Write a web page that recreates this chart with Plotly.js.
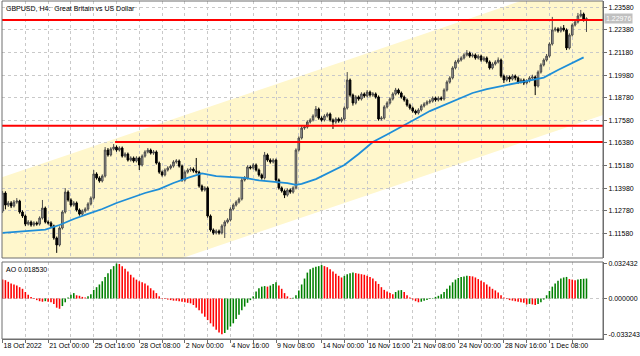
<!DOCTYPE html>
<html><head><meta charset="utf-8">
<script src="https://cdn.plot.ly/plotly-3.0.1.min.js"></script>
<style>html,body{margin:0;padding:0;background:#fff}#chart{width:640px;height:356px}</style>
</head><body><div id="chart"></div>
<script>
const openP = [1.1276,1.1372,1.1308,1.1319,1.1303,1.1324,1.1329,1.1271,1.1250,1.1207,
1.1218,1.1202,1.1213,1.1207,1.1239,1.1292,1.1218,1.1213,1.1197,1.1133,
1.1096,1.1186,1.1271,1.1377,1.1335,1.1308,1.1319,1.1282,1.1260,1.1276,
1.1287,1.1314,1.1345,1.1473,1.1452,1.1436,1.1462,1.1600,1.1574,1.1606,
1.1616,1.1600,1.1611,1.1568,1.1579,1.1547,1.1558,1.1542,1.1558,1.1521,
1.1568,1.1590,1.1600,1.1584,1.1590,1.1531,1.1483,1.1468,1.1494,1.1505,
1.1515,1.1537,1.1542,1.1515,1.1441,1.1483,1.1494,1.1499,1.1489,1.1483,
1.1409,1.1388,1.1399,1.1250,1.1176,1.1160,1.1170,1.1160,1.1197,1.1218,
1.1229,1.1287,1.1308,1.1324,1.1340,1.1441,1.1452,1.1510,1.1505,1.1521,
1.1494,1.1468,1.1452,1.1574,1.1547,1.1537,1.1547,1.1441,1.1399,1.1383,
1.1361,1.1388,1.1377,1.1399,1.1600,1.1664,1.1717,1.1722,1.1749,1.1760,
1.1781,1.1818,1.1770,1.1760,1.1781,1.1791,1.1760,1.1749,1.1765,1.1754,
1.1765,1.1823,1.1972,1.1892,1.1850,1.1882,1.1871,1.1898,1.1887,1.1908,
1.1892,1.1898,1.1882,1.1765,1.1770,1.1829,1.1850,1.1871,1.1898,1.1919,
1.1903,1.1882,1.1866,1.1839,1.1823,1.1807,1.1797,1.1813,1.1834,1.1845,
1.1855,1.1860,1.1876,1.1866,1.1876,1.1871,1.1919,1.1961,1.1983,1.2036,
1.2068,1.2078,1.2089,1.2105,1.2115,1.2099,1.2105,1.2089,1.2099,1.2078,
1.2089,1.2068,1.2036,1.2057,1.2068,1.2078,1.1993,1.1972,1.1988,1.1977,
1.1993,1.1983,1.1961,1.1972,1.1956,1.1967,1.1983,1.1988,1.1940,1.2014,
1.2052,1.2078,1.2099,1.2163,1.2238,1.2243,1.2232,1.2248,1.2238,1.2142,
1.2211,1.2264,1.2280,1.2312,1.2322,1.2291];

const highP = [1.1383,1.1381,1.1330,1.1329,1.1335,1.1345,1.1336,1.1280,1.1258,1.1228,
1.1226,1.1222,1.1221,1.1248,1.1335,1.1300,1.1227,1.1222,1.1204,1.1141,
1.1195,1.1280,1.1398,1.1386,1.1344,1.1329,1.1327,1.1290,1.1285,1.1296,
1.1323,1.1354,1.1494,1.1482,1.1461,1.1471,1.1616,1.1611,1.1615,1.1632,
1.1625,1.1620,1.1619,1.1588,1.1587,1.1567,1.1566,1.1567,1.1566,1.1577,
1.1599,1.1611,1.1608,1.1600,1.1598,1.1539,1.1491,1.1503,1.1514,1.1524,
1.1546,1.1552,1.1550,1.1523,1.1492,1.1503,1.1509,1.1508,1.1558,1.1491,
1.1417,1.1408,1.1407,1.1258,1.1184,1.1179,1.1178,1.1206,1.1227,1.1238,
1.1296,1.1317,1.1333,1.1349,1.1452,1.1462,1.1519,1.1518,1.1530,1.1529,
1.1502,1.1476,1.1590,1.1582,1.1556,1.1556,1.1555,1.1449,1.1407,1.1391,
1.1397,1.1396,1.1408,1.1609,1.1673,1.1727,1.1733,1.1758,1.1769,1.1790,
1.1834,1.1826,1.1779,1.1790,1.1800,1.1799,1.1768,1.1774,1.1773,1.1774,
1.1832,1.2014,1.1980,1.1900,1.1891,1.1890,1.1907,1.1906,1.1919,1.1916,
1.1908,1.1906,1.1890,1.1780,1.1838,1.1859,1.1880,1.1907,1.1930,1.1927,
1.1911,1.1890,1.1874,1.1847,1.1831,1.1815,1.1822,1.1843,1.1854,1.1864,
1.1870,1.1885,1.1884,1.1885,1.1885,1.1928,1.1970,1.1992,1.2045,1.2077,
1.2088,1.2098,1.2114,1.2131,1.2123,1.2114,1.2113,1.2108,1.2107,1.2098,
1.2097,1.2076,1.2066,1.2077,1.2092,1.2086,1.2001,1.1997,1.1996,1.2003,
1.2001,1.1991,1.1981,1.1980,1.1976,1.1992,1.2000,1.1996,1.2023,1.2061,
1.2087,1.2110,1.2172,1.2307,1.2254,1.2252,1.2257,1.2264,1.2246,1.2220,
1.2273,1.2291,1.2328,1.2344,1.2330,1.2305];

const lowP = [1.1266,1.1285,1.1298,1.1292,1.1295,1.1315,1.1262,1.1240,1.1196,1.1199,
1.1193,1.1194,1.1198,1.1199,1.1231,1.1210,1.1204,1.1188,1.1124,1.1054,
1.1088,1.1178,1.1263,1.1326,1.1299,1.1300,1.1273,1.1252,1.1252,1.1268,
1.1279,1.1306,1.1337,1.1443,1.1427,1.1428,1.1454,1.1565,1.1566,1.1598,
1.1591,1.1592,1.1560,1.1560,1.1539,1.1539,1.1533,1.1534,1.1494,1.1513,
1.1560,1.1582,1.1576,1.1575,1.1523,1.1474,1.1459,1.1460,1.1486,1.1497,
1.1507,1.1528,1.1507,1.1432,1.1433,1.1475,1.1485,1.1480,1.1475,1.1400,
1.1379,1.1380,1.1241,1.1167,1.1150,1.1152,1.1151,1.1152,1.1133,1.1210,
1.1221,1.1279,1.1300,1.1316,1.1332,1.1433,1.1444,1.1497,1.1497,1.1486,
1.1459,1.1443,1.1444,1.1538,1.1528,1.1529,1.1432,1.1390,1.1374,1.1345,
1.1353,1.1368,1.1369,1.1391,1.1592,1.1656,1.1708,1.1714,1.1741,1.1752,
1.1773,1.1761,1.1751,1.1752,1.1773,1.1751,1.1712,1.1740,1.1745,1.1746,
1.1757,1.1815,1.1883,1.1836,1.1842,1.1862,1.1863,1.1878,1.1879,1.1883,
1.1883,1.1873,1.1756,1.1757,1.1762,1.1821,1.1842,1.1863,1.1890,1.1895,
1.1873,1.1857,1.1830,1.1814,1.1798,1.1788,1.1789,1.1805,1.1826,1.1837,
1.1846,1.1852,1.1857,1.1858,1.1862,1.1863,1.1911,1.1953,1.1975,1.2028,
1.2059,1.2070,1.2081,1.2097,1.2090,1.2091,1.2080,1.2081,1.2069,1.2070,
1.2059,1.2027,1.2028,1.2049,1.2060,1.1984,1.1956,1.1964,1.1961,1.1969,
1.1970,1.1951,1.1953,1.1945,1.1948,1.1959,1.1975,1.1892,1.1932,1.2006,
1.2044,1.2070,1.2091,1.2155,1.2229,1.2223,1.2224,1.2229,1.2131,1.2134,
1.2203,1.2256,1.2272,1.2304,1.2282,1.2227];

const closeP = [1.1372,1.1308,1.1319,1.1303,1.1324,1.1329,1.1271,1.1250,1.1207,1.1218,
1.1202,1.1213,1.1207,1.1239,1.1292,1.1218,1.1213,1.1197,1.1133,1.1096,
1.1186,1.1271,1.1377,1.1335,1.1308,1.1319,1.1282,1.1260,1.1276,1.1287,
1.1314,1.1345,1.1473,1.1452,1.1436,1.1462,1.1600,1.1574,1.1606,1.1616,
1.1600,1.1611,1.1568,1.1579,1.1547,1.1558,1.1542,1.1558,1.1521,1.1568,
1.1590,1.1600,1.1584,1.1590,1.1531,1.1483,1.1468,1.1494,1.1505,1.1515,
1.1537,1.1542,1.1515,1.1441,1.1483,1.1494,1.1499,1.1489,1.1483,1.1409,
1.1388,1.1399,1.1250,1.1176,1.1160,1.1170,1.1160,1.1197,1.1218,1.1229,
1.1287,1.1308,1.1324,1.1340,1.1441,1.1452,1.1510,1.1505,1.1521,1.1494,
1.1468,1.1452,1.1574,1.1547,1.1537,1.1547,1.1441,1.1399,1.1383,1.1361,
1.1388,1.1377,1.1399,1.1600,1.1664,1.1717,1.1722,1.1749,1.1760,1.1781,
1.1818,1.1770,1.1760,1.1781,1.1791,1.1760,1.1749,1.1765,1.1754,1.1765,
1.1823,1.1972,1.1892,1.1850,1.1882,1.1871,1.1898,1.1887,1.1908,1.1892,
1.1898,1.1882,1.1765,1.1770,1.1829,1.1850,1.1871,1.1898,1.1919,1.1903,
1.1882,1.1866,1.1839,1.1823,1.1807,1.1797,1.1813,1.1834,1.1845,1.1855,
1.1860,1.1876,1.1866,1.1876,1.1871,1.1919,1.1961,1.1983,1.2036,1.2068,
1.2078,1.2089,1.2105,1.2115,1.2099,1.2105,1.2089,1.2099,1.2078,1.2089,
1.2068,1.2036,1.2057,1.2068,1.2078,1.1993,1.1972,1.1988,1.1977,1.1993,
1.1983,1.1961,1.1972,1.1956,1.1967,1.1983,1.1988,1.1940,1.2014,1.2052,
1.2078,1.2099,1.2163,1.2238,1.2243,1.2232,1.2248,1.2238,1.2142,1.2211,
1.2264,1.2280,1.2312,1.2322,1.2291,1.22976];

const aoValues = [0.0175,0.0170,0.0155,0.0140,0.0130,0.0120,0.0105,0.0090,0.0060,0.0035,
0.0015,-0.0005,-0.0015,-0.0025,-0.0030,-0.0025,-0.0030,-0.0035,-0.0050,-0.0085,
-0.0095,-0.0070,-0.0035,0.0010,0.0035,0.0050,0.0030,0.0025,0.0015,0.0010,
0.0020,0.0040,0.0080,0.0105,0.0130,0.0160,0.0200,0.0235,0.0270,0.0300,
0.032432,0.0320,0.0300,0.0275,0.0250,0.0220,0.0195,0.0175,0.0160,0.0150,
0.0140,0.0120,0.0095,0.0075,0.0050,0.0020,0.0005,-0.0005,-0.0010,-0.0015,
-0.0020,-0.0021,-0.0025,-0.0030,-0.0035,-0.0040,-0.0045,-0.0060,-0.0085,-0.0110,
-0.0140,-0.0170,-0.0200,-0.0230,-0.0260,-0.0290,-0.0315,-0.033243,-0.0320,-0.0290,
-0.0260,-0.0230,-0.0190,-0.0150,-0.0110,-0.0075,-0.0040,-0.0015,0.0020,0.0065,
0.0095,0.0110,0.0115,0.0110,0.0120,0.0135,0.0150,0.0120,0.0090,0.0050,
0.0020,0.0005,0.0008,0.0030,0.0075,0.0130,0.0185,0.0240,0.0270,0.0285,
0.0295,0.0300,0.0310,0.0300,0.0290,0.0270,0.0250,0.0230,0.0210,0.0195,
0.0210,0.0225,0.0235,0.0240,0.0235,0.0230,0.0225,0.0220,0.0210,0.0200,
0.0185,0.0160,0.0135,0.0105,0.0080,0.0065,0.0050,0.0040,0.0060,0.0075,
0.0078,0.0060,0.0030,0.0010,-0.0010,-0.0025,-0.0035,-0.0030,-0.0020,-0.0015,
-0.0005,0.0005,0.0015,0.0025,0.0040,0.0060,0.0090,0.0120,0.0150,0.0175,
0.0190,0.0200,0.0205,0.0210,0.0208,0.0205,0.0195,0.0180,0.0165,0.0150,
0.0130,0.0110,0.0090,0.0075,0.0055,0.0030,0.0010,-0.0005,-0.0015,-0.0020,
-0.0025,-0.0030,-0.0035,-0.0040,-0.0055,-0.0050,-0.0055,-0.0060,-0.0050,-0.0035,
-0.0010,0.0030,0.0070,0.0110,0.0140,0.0165,0.0185,0.0195,0.0200,0.0180,
0.0175,0.0170,0.0175,0.0180,0.0183,0.018530];

const maBars = [0,5,10,15,20,25,30,35,40,45,50,55,60,65,68,70,75,80,85,90,95,100,103,105,110,115,120,125,130,135,140,145,150,155,160,165,170,175,180,185,190,195,200,204];
const maValues = [1.1160,1.1165,1.1170,1.1178,1.1202,1.1234,1.1261,1.1287,1.1319,1.1345,1.1372,1.1393,1.1425,1.1452,1.1468,1.1476,1.1462,1.1457,1.1452,1.1439,1.1433,1.1425,1.1415,1.1420,1.1446,1.1483,1.1521,1.1579,1.1643,1.1683,1.1722,1.1765,1.1807,1.1839,1.1871,1.1903,1.1924,1.1940,1.1956,1.1969,1.1985,1.2025,1.2062,1.2092];

const channelBars = [-0.2, 210.8];
const channelUpper = [1.1455, 1.2540];
const channelLower = [1.0701, 1.1786];

const levelPrices = [1.2291, 1.1729, 1.1643];
const levelStartBars = [-0.2, -0.2, 39.5];
const levelEndBar = 210.8;

const lastPrice = 1.22976;
const aoLastText = 'AO 0.018530';

const priceTicks = [1.2358,1.2238,1.2118,1.1998,1.1878,1.1758,1.1638,1.1518,1.1398,1.1278,1.1158];
const aoTicks = [0.032432, 0, -0.033243];
const aoTickText = ['0.032432','0.000000','-0.033243'];
const dateTickBars = [0,16,32,48,64,80,96,112,128,144,160,176,192];
const dateTickLabels = ['18 Oct 2022','21 Oct 00:00','25 Oct 16:00','28 Oct 08:00','2 Nov 00:00','4 Nov 16:00','9 Nov 08:00','14 Nov 00:00','16 Nov 16:00','21 Nov 08:00','24 Nov 00:00','28 Nov 16:00','1 Dec 08:00'];
const minorGridBars = [8,24,40,56,72,88,104,120,136,152,168,184,200];

const bars = closeP.map((_, i) => i);
const aoColors = aoValues.map((v, i) => (i > 0 && v > aoValues[i - 1]) ? '#008000' : '#ff0000');

const GRID = '#c9c9c9';
const FRAME = '#6e6e6e';

const traces = [];
traces.push({
  type: 'candlestick', x: bars, open: openP, high: highP, low: lowP, close: closeP,
  xaxis: 'x', yaxis: 'y', whiskerwidth: 0, hoverinfo: 'skip',
  increasing: {line: {color: '#4a4a4a', width: 1}, fillcolor: '#a6a6a6'},
  decreasing: {line: {color: '#000000', width: 1}, fillcolor: '#000000'}
});
traces.push({
  type: 'scatter', mode: 'lines', x: maBars, y: maValues, xaxis: 'x', yaxis: 'y',
  line: {color: '#1e8ed8', width: 1.8}, hoverinfo: 'skip'
});
levelPrices.forEach((p, k) => {
  traces.push({
    type: 'scatter', mode: 'lines', x: [levelStartBars[k], levelEndBar], y: [p, p],
    xaxis: 'x', yaxis: 'y', line: {color: '#ff0000', width: 2}, hoverinfo: 'skip'
  });
});
traces.push({
  type: 'bar', x: bars, y: aoValues, xaxis: 'x', yaxis: 'y2',
  marker: {color: aoColors, line: {width: 0}}, hoverinfo: 'skip'
});

const channelPath = 'M ' + channelBars[0] + ',' + channelUpper[0] +
  ' L ' + channelBars[1] + ',' + channelUpper[1] +
  ' L ' + channelBars[1] + ',' + channelLower[1] +
  ' L ' + channelBars[0] + ',' + channelLower[0] + ' Z';

const gridBars = dateTickBars.concat(minorGridBars).sort((a, b) => a - b);
const gridText = gridBars.map(b => { const k = dateTickBars.indexOf(b); return k >= 0 ? dateTickLabels[k] : ''; });

const layout = {
  width: 640, height: 356,
  margin: {l: 2, r: 37, t: 1, b: 17, pad: 0},
  paper_bgcolor: '#ffffff', plot_bgcolor: '#ffffff',
  showlegend: false,
  font: {family: 'Liberation Sans, Arial, sans-serif', size: 7, color: '#000000'},
  boxgap: 0.2,
  bargap: 0.45,
  xaxis: {
    range: [-0.2, 210.8], anchor: 'y2', tickmode: 'array', tickvals: gridBars, ticktext: gridText,
    tickangle: 0, automargin: false,
    ticks: 'outside', ticklen: 3, tickcolor: FRAME, showgrid: true, gridcolor: GRID, griddash: 'dot',
    zeroline: false, showline: true, linecolor: FRAME, rangeslider: {visible: false},
    ticklabelposition: 'outside right', tickfont: {size: 7}, fixedrange: true
  },
  yaxis: {
    domain: [0.2396, 1], range: [1.10268, 1.23915], side: 'right', anchor: 'x',
    tickmode: 'array', tickvals: priceTicks, ticktext: priceTicks.map(v => v.toFixed(5)),
    ticks: 'outside', ticklen: 3, tickcolor: FRAME, showgrid: true, gridcolor: GRID, griddash: 'dot',
    zeroline: false, showline: true, linecolor: FRAME, tickfont: {size: 7}, fixedrange: true, automargin: false
  },
  yaxis2: {
    domain: [0, 0.2278], range: [-0.03754, 0.03383], side: 'right', anchor: 'x',
    tickmode: 'array', tickvals: aoTicks, ticktext: aoTickText,
    ticks: 'outside', ticklen: 3, tickcolor: FRAME, showgrid: false,
    zeroline: false, showline: true, linecolor: FRAME, tickfont: {size: 7}, fixedrange: true, automargin: false
  },
  shapes: [
    {type: 'path', path: channelPath, xref: 'x', yref: 'y', fillcolor: '#fff7cc', line: {width: 0}, layer: 'below'},
    {type: 'line', xref: 'x domain', x0: 0, x1: 1, yref: 'y2', y0: 0, y1: 0, line: {color: GRID, width: 1, dash: 'dot'}, layer: 'below'},
    {type: 'rect', xref: 'x domain', x0: 0, x1: 1, yref: 'y domain', y0: 0, y1: 1, line: {color: FRAME, width: 1}, layer: 'above'},
    {type: 'rect', xref: 'x domain', x0: 0, x1: 1, yref: 'y2 domain', y0: 0, y1: 1, line: {color: FRAME, width: 1}, layer: 'above'}
  ],
  annotations: [
    {text: 'GBPUSD, H4:\u00a0 Great Britain vs US Dollar', xref: 'paper', yref: 'paper', x: 0, y: 1,
     xanchor: 'left', yanchor: 'top', xshift: 2, yshift: -2, showarrow: false, font: {size: 7, color: '#000'}},
    {text: aoLastText, xref: 'paper', yref: 'paper', x: 0, y: 0.2278,
     xanchor: 'left', yanchor: 'top', xshift: 2, yshift: -2, showarrow: false, font: {size: 7, color: '#000'}},
    {text: lastPrice.toFixed(5), xref: 'paper', yref: 'y', x: 1, y: lastPrice,
     xanchor: 'left', yanchor: 'middle', xshift: 1, showarrow: false, bgcolor: '#c0c0c0',
     borderpad: 1, font: {size: 7, color: '#ffffff'}}
  ]
};

Plotly.newPlot('chart', traces, layout, {staticPlot: true, displayModeBar: false});
</script>
</body></html>
